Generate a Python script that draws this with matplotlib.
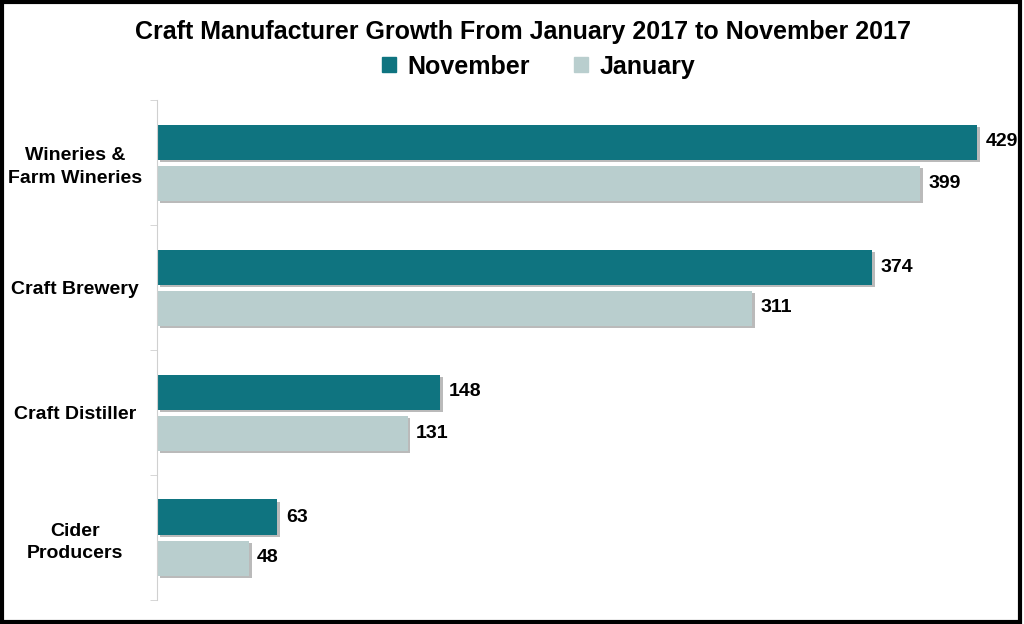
import numpy as np
import matplotlib.pyplot as plt
from matplotlib import patheffects as pe
from matplotlib.patches import Rectangle, Patch

plt.rcParams['font.family'] = ['Liberation Sans', 'DejaVu Sans']

categories = ['Wineries &\nFarm Wineries', 'Craft Brewery', 'Craft Distiller', 'Cider\nProducers']
november = [429, 374, 148, 63]
january = [399, 311, 131, 48]

teal = '#0f7480'
light = '#b9cece'

fig = plt.figure(figsize=(10.24, 6.24), dpi=100)
ax = fig.add_axes([157 / 1024, 24 / 624, 853 / 1024, 500 / 624])

y = np.arange(len(categories))
h = 0.28
shadow = [pe.SimplePatchShadow(offset=(2, -2), shadow_rgbFace='#777777', alpha=0.5), pe.Normal()]
b1 = ax.barh(y - 0.164, november, height=h, color=teal, path_effects=shadow)
b2 = ax.barh(y + 0.164, january, height=h, color=light, path_effects=shadow)

for bars in (b1, b2):
    for bar in bars:
        ax.annotate(f'{int(bar.get_width())}', (bar.get_width(), bar.get_y() + bar.get_height() / 2),
                    xytext=(6, 0), textcoords='offset points', va='center', ha='left',
                    fontsize=14, fontweight='bold')

ax.set_xlim(0, 446)
ax.set_ylim(3.5, -0.5)
ax.set_yticks(y)
ax.set_yticklabels(categories, fontsize=14, fontweight='bold', ha='center', linespacing=1.45)
ax.tick_params(axis='y', which='major', length=0, pad=59)
ax.set_yticks(np.arange(-0.5, 4, 1), minor=True)
ax.tick_params(axis='y', which='minor', length=5, color='#d0d0d0', direction='out')
ax.set_xticks([])
for s in ('top', 'right', 'bottom'):
    ax.spines[s].set_visible(False)
ax.spines['left'].set_color('#d0d0d0')

fig.text(0.511, 0.948, 'Craft Manufacturer Growth From January 2017 to November 2017',
         ha='center', va='center', fontsize=18, fontweight='bold')
handles = [Patch(color=teal), Patch(color=light)]
fig.legend(handles=handles, labels=['November', 'January'], loc='center', bbox_to_anchor=(0.526, 0.893),
           ncol=2, frameon=False, prop={'size': 18, 'weight': 'bold'},
           handlelength=0.55, handleheight=0.55, handletextpad=0.45, columnspacing=1.8)

fig.patches.append(Rectangle((0.002, 0.003), 0.994, 0.994, transform=fig.transFigure,
                             fill=False, edgecolor='black', linewidth=3))

fig.savefig('out.png', dpi=100)
